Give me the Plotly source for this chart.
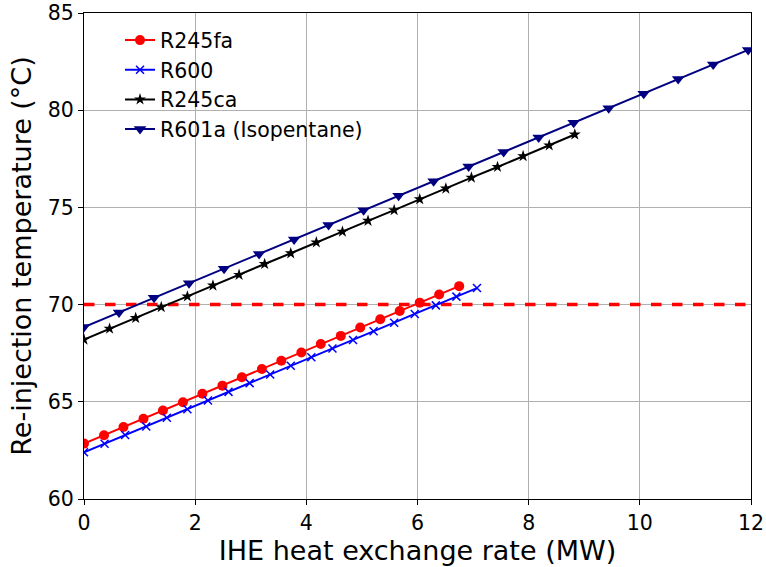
import plotly.graph_objects as go

fa_x = [0, 0.36, 0.71, 1.07, 1.42, 1.78, 2.13, 2.49, 2.84, 3.20, 3.55, 3.91, 4.26, 4.62, 4.97, 5.33, 5.68, 6.04, 6.39, 6.75]
fa_y = [62.85, 63.28, 63.70, 64.13, 64.55, 64.98, 65.41, 65.83, 66.26, 66.69, 67.11, 67.54, 67.97, 68.39, 68.82, 69.25, 69.67, 70.10, 70.52, 70.95]

r600_x = [0, 0.37, 0.74, 1.12, 1.49, 1.86, 2.23, 2.60, 2.98, 3.35, 3.72, 4.09, 4.47, 4.84, 5.21, 5.58, 5.95, 6.33, 6.70, 7.07]
r600_y = [62.40, 62.84, 63.29, 63.73, 64.18, 64.62, 65.07, 65.51, 65.96, 66.40, 66.85, 67.29, 67.74, 68.18, 68.63, 69.07, 69.52, 69.96, 70.41, 70.85]

ca_x = [0, 0.46, 0.93, 1.39, 1.86, 2.32, 2.79, 3.25, 3.72, 4.18, 4.65, 5.11, 5.58, 6.04, 6.51, 6.97, 7.44, 7.90, 8.37, 8.83]
ca_y = [68.20, 68.76, 69.31, 69.87, 70.42, 70.98, 71.53, 72.09, 72.64, 73.20, 73.75, 74.31, 74.86, 75.42, 75.97, 76.53, 77.08, 77.64, 78.19, 78.75]

r601_x = [0, 0.63, 1.26, 1.89, 2.52, 3.15, 3.78, 4.40, 5.03, 5.66, 6.29, 6.92, 7.55, 8.18, 8.81, 9.44, 10.07, 10.69, 11.32, 11.95]
r601_y = [68.85, 69.60, 70.35, 71.10, 71.85, 72.60, 73.35, 74.10, 74.85, 75.60, 76.35, 77.10, 77.85, 78.60, 79.35, 80.10, 80.85, 81.60, 82.35, 83.10]

limit_x = [0, 12]
limit_y = [70, 70]

fig = go.Figure()
fig.add_trace(go.Scatter(x=limit_x, y=limit_y, mode="lines", showlegend=False,
                         line=dict(color="red", width=3.5, dash="dash"), hoverinfo="skip"))
fig.add_trace(go.Scatter(x=fa_x, y=fa_y, mode="lines+markers", name="R245fa",
                         line=dict(color="red", width=2), marker=dict(symbol="circle", size=10, color="red")))
fig.add_trace(go.Scatter(x=r600_x, y=r600_y, mode="lines+markers", name="R600",
                         line=dict(color="blue", width=2), marker=dict(symbol="x-thin", size=8,
                         line=dict(color="blue", width=1.5), color="blue")))
fig.add_trace(go.Scatter(x=ca_x, y=ca_y, mode="lines+markers", name="R245ca",
                         line=dict(color="black", width=2), marker=dict(symbol="star", size=9, color="black")))
fig.add_trace(go.Scatter(x=r601_x, y=r601_y, mode="lines+markers", name="R601a (Isopentane)",
                         line=dict(color="navy", width=2), marker=dict(symbol="triangle-down", size=11, color="navy")))

font = "DejaVu Sans"
axis_common = dict(showline=True, linecolor="black", linewidth=1.2, mirror=True,
                   ticks="outside", ticklen=5, tickcolor="black", tickwidth=1.2,
                   showgrid=True, gridcolor="#b0b0b0", gridwidth=1, zeroline=False,
                   automargin=False, ticklabeloverflow="allow",
                   tickfont=dict(family=font, size=20.5, color="black"))
fig.update_layout(
    width=766, height=567,
    margin=dict(l=84, r=15, t=13, b=68),
    plot_bgcolor="white", paper_bgcolor="white",
    font=dict(family=font, color="black"),
    xaxis=dict(range=[0, 12], dtick=2, title=dict(text="IHE heat exchange rate (MW)",
               font=dict(family=font, size=27), standoff=6), **axis_common),
    yaxis=dict(range=[60, 85], dtick=5, title=dict(text="Re-injection temperature (°C)",
               font=dict(family=font, size=27), standoff=8), **axis_common),
    legend=dict(x=0.054, y=0.985, xanchor="left", yanchor="top", bgcolor="rgba(0,0,0,0)",
                font=dict(family=font, size=20.5), tracegroupgap=0),
    showlegend=True,
)
fig.write_html("out.html")
